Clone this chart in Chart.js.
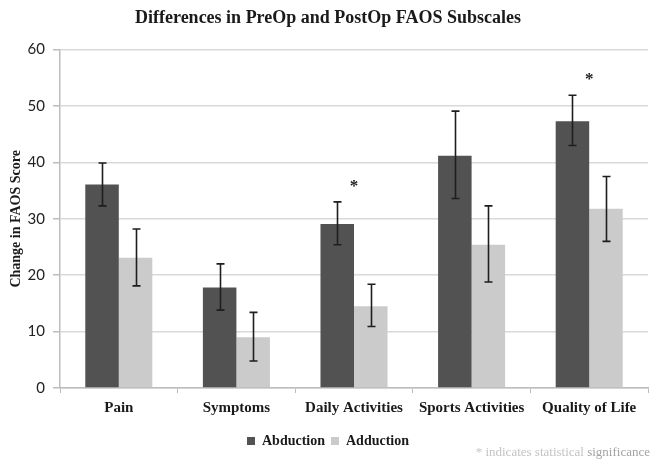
<!DOCTYPE html>
<html>
<head>
<meta charset="utf-8">
<script src="https://cdn.jsdelivr.net/npm/chart.js@4/dist/chart.umd.min.js"></script>
<style>
  html, body { margin: 0; padding: 0; background: #ffffff; }
  canvas { display: block; }
</style>
</head>
<body>
<canvas id="c" width="664" height="472"></canvas>
<script>
const categories = ['Pain', 'Symptoms', 'Daily Activities', 'Sports Activities', 'Quality of Life'];
const abduction     = [36.1, 17.8, 29.1, 41.2, 47.3];
const abductionLow  = [32.3, 13.8, 25.4, 33.6, 43.0];
const abductionHigh = [39.9, 22.0, 33.0, 49.1, 51.9];
const adduction     = [23.1, 9.0, 14.5, 25.4, 31.8];
const adductionLow  = [18.1, 4.8, 10.9, 18.8, 26.0];
const adductionHigh = [28.2, 13.4, 18.4, 32.3, 37.5];
const significant   = [false, false, true, false, true];
const yTicks        = [0, 10, 20, 30, 40, 50, 60];

const SERIF = '"Liberation Serif", "DejaVu Serif", serif';
const SANS = 'Lato, "Open Sans", sans-serif';

const errorBars = {
  id: 'errorBars',
  afterDatasetsDraw(chart) {
    const ctx = chart.ctx;
    const y = chart.scales.y;
    const lows = [abductionLow, adductionLow];
    const highs = [abductionHigh, adductionHigh];
    ctx.save();
    ctx.strokeStyle = '#1e1e1e';
    ctx.lineWidth = 1.6;
    chart.data.datasets.forEach((ds, di) => {
      const meta = chart.getDatasetMeta(di);
      meta.data.forEach((bar, i) => {
        const x = Math.round(bar.x) + 0.5;
        const yl = y.getPixelForValue(lows[di][i]);
        const yh = y.getPixelForValue(highs[di][i]);
        ctx.beginPath();
        ctx.moveTo(x, yl); ctx.lineTo(x, yh);
        ctx.moveTo(x - 4, yl); ctx.lineTo(x + 4, yl);
        ctx.moveTo(x - 4, yh); ctx.lineTo(x + 4, yh);
        ctx.stroke();
      });
    });
    const xs = chart.scales.x;
    ctx.fillStyle = '#1e1e1e';
    ctx.font = 'bold 17px ' + SERIF;
    ctx.textAlign = 'center';
    ctx.textBaseline = 'middle';
    significant.forEach((s, i) => {
      if (!s) return;
      const top = Math.max(abductionHigh[i], adductionHigh[i]) + 3.3;
      ctx.fillText('*', xs.getPixelForValue(i), y.getPixelForValue(top) + 3);
    });
    ctx.restore();
  }
};

const note = {
  id: 'note',
  afterDraw(chart) {
    const ctx = chart.ctx;
    ctx.save();
    ctx.font = '13px ' + SERIF;
    ctx.textBaseline = 'middle';
    ctx.textAlign = 'right';
    const right = 650, yy = 453;
    const w2 = ctx.measureText('significance').width;
    ctx.fillStyle = '#a3a3a3';
    ctx.fillText('significance', right, yy);
    ctx.fillStyle = '#c4c4c4';
    ctx.fillText('* indicates statistical ', right - w2, yy);
    ctx.restore();
  }
};

new Chart(document.getElementById('c'), {
  type: 'bar',
  data: {
    labels: categories,
    datasets: [
      { label: 'Abduction', data: abduction, backgroundColor: '#525252', borderWidth: 0,
        categoryPercentage: 0.57, barPercentage: 1.0 },
      { label: 'Adduction', data: adduction, backgroundColor: '#cbcbcb', borderWidth: 0,
        categoryPercentage: 0.57, barPercentage: 1.0 }
    ]
  },
  options: {
    responsive: false,
    animation: false,
    devicePixelRatio: 1,
    layout: { padding: { left: 8, right: 16, top: 0, bottom: 14 } },
    plugins: {
      title: {
        display: true,
        text: 'Differences in PreOp and PostOp FAOS Subscales',
        color: '#1a1a1a',
        font: { family: SERIF, size: 18, weight: 'bold' },
        padding: { top: 8, bottom: 20 }
      },
      legend: {
        position: 'bottom',
        labels: {
          color: '#1a1a1a',
          font: { family: SERIF, size: 14, weight: 'bold' },
          boxWidth: 8, boxHeight: 8, padding: 6
        }
      },
      tooltip: { enabled: false }
    },
    scales: {
      x: {
        offset: true,
        grid: { display: true, drawOnChartArea: false, drawTicks: true, tickLength: 5, color: '#bdbdbd', offset: true },
        border: { color: '#bdbdbd', width: 1.5 },
        ticks: { color: '#1a1a1a', font: { family: SERIF, size: 15, weight: 'bold' }, padding: 6 },
        afterFit(scale) { scale.height = 40; }
      },
      y: {
        min: 0, max: 60,
        afterBuildTicks(scale) { scale.ticks = yTicks.map(v => ({ value: v })); },
        grid: { color: '#d9d9d9', lineWidth: 1.5, tickColor: '#bdbdbd', tickLength: 7 },
        border: { color: '#bdbdbd', width: 1.5 },
        ticks: { color: '#222222', font: { family: SANS, size: 15 }, padding: 8 },
        title: {
          display: true, text: 'Change in FAOS Score', color: '#1a1a1a',
          font: { family: SERIF, size: 14, weight: 'bold' }, padding: { top: 0, bottom: 0 }
        },
        afterFit(scale) { scale.width = 52; }
      }
    }
  },
  plugins: [errorBars, note]
});
</script>
</body>
</html>
